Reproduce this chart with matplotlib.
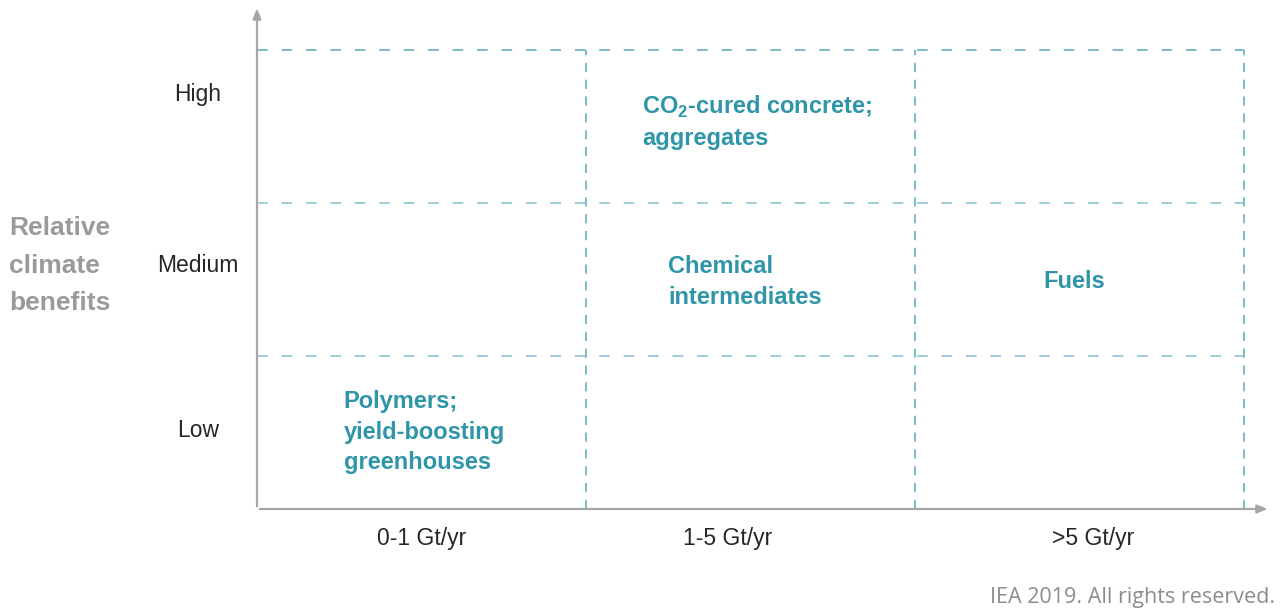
import matplotlib
matplotlib.use("Agg")
import matplotlib.pyplot as plt

# categories
x_cats = ["0-1 Gt/yr", "1-5 Gt/yr", ">5 Gt/yr"]
y_cats = ["Low", "Medium", "High"]
y_title = "Relative\nclimate\nbenefits"

# (column, row, label)
cells = [
    (1, 2, "CO$_\\mathregular{2}$-cured concrete;\naggregates"),
    (1, 1, "Chemical\nintermediates"),
    (2, 1, "Fuels"),
    (0, 0, "Polymers;\nyield-boosting\ngreenhouses"),
]
source = "IEA 2019. All rights reserved."

teal = "#2f95a8"
grid_c = "#5aa9ba"
axis_c = "#a6a6a6"

plt.rcParams["font.family"] = ["Liberation Sans", "DejaVu Sans"]
plt.rcParams["mathtext.fontset"] = "custom"
plt.rcParams["mathtext.rm"] = "Liberation Sans:bold"

W, H = 1285, 611
fig = plt.figure(figsize=(W / 100, H / 100), dpi=100)
x0, x1, y0, y1 = 257, 1244, 509, 50
ax = fig.add_axes([x0 / W, 1 - y0 / H, (x1 - x0) / W, (y0 - y1) / H])
ax.set_xlim(0, 3)
ax.set_ylim(0, 3)
ax.axis("off")

# dashed grid
for i in range(1, 4):
    ax.plot([0, 3], [i, i], color=grid_c, lw=1.1, ls=(0, (7, 9)),
            alpha=1.0 if i == 3 else 0.75, clip_on=False)
    ax.plot([i, i], [0, 3], color=grid_c, lw=1.1, ls=(0, (6, 5)),
            clip_on=False)

# axes arrows
arrow = dict(arrowstyle="-|>,head_length=0.6,head_width=0.25", color=axis_c, lw=1.6)
ax.annotate("", xy=(3.08, 0), xytext=(0, 0), arrowprops=arrow, annotation_clip=False)
ax.annotate("", xy=(0, 3.29), xytext=(0, 0), arrowprops=arrow, annotation_clip=False)

# category labels
label_y = [0.51, 1.59, 2.71]
for y, lab in zip(label_y, y_cats):
    ax.text(-0.18, y, lab, ha="center", va="center", fontsize=16.5, color="#262626")
label_x = [0.5, 1.43, 2.54]
for x, lab in zip(label_x, x_cats):
    ax.text(x, -0.19, lab, ha="center", va="center", fontsize=16.5, color="#262626")

ax.text(-0.753, 1.59, y_title, ha="left", va="center", fontsize=19,
        fontweight="bold", color="#9a9a9a", linespacing=1.7,
        transform=ax.transData)

# cell texts
offsets = {
    (1, 2): (0.17, 0.53, "left"),
    (1, 1): (0.25, 0.484, "left"),
    (2, 1): (0.483, 0.49, "center"),
    (0, 0): (0.264, 0.503, "left"),
}
for c, r, lab in cells:
    dx, dy, ha = offsets[(c, r)]
    ax.text(c + dx, r + dy, lab, ha=ha, va="center", fontsize=17,
            fontweight="bold", color=teal, linespacing=1.4)

fig.text(1275 / W, 1 - 597 / H, source, ha="right", va="center",
         fontsize=15.5, color="#8c8c8c", family="Open Sans")

fig.savefig("out.png", dpi=100, facecolor="white")
